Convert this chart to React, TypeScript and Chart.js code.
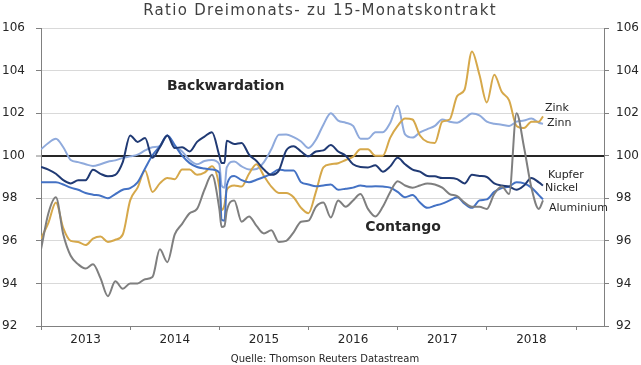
import { useEffect, useRef } from "react";
import { Chart, registerables } from "chart.js";

Chart.register(...registerables);

// Decimal years (monthly, plus two points inside the turn-of-year 2015 dip and the last observation)
const dates = [
  2013.0, 2013.083, 2013.167, 2013.25, 2013.333, 2013.417, 2013.5, 2013.583, 2013.667, 2013.75, 2013.833, 2013.917,
  2014.0, 2014.083, 2014.167, 2014.25, 2014.333, 2014.417, 2014.5, 2014.583, 2014.667, 2014.75, 2014.833, 2014.917,
  2015.0, 2015.025, 2015.058, 2015.083,
  2015.167, 2015.25, 2015.333, 2015.417, 2015.5, 2015.583, 2015.667, 2015.75, 2015.833, 2015.917,
  2016.0, 2016.083, 2016.167, 2016.25, 2016.333, 2016.417, 2016.5, 2016.583, 2016.667, 2016.75, 2016.833, 2016.917,
  2017.0, 2017.083, 2017.167, 2017.25, 2017.333, 2017.417, 2017.5, 2017.583, 2017.667, 2017.75, 2017.833, 2017.917,
  2018.0, 2018.083, 2018.167, 2018.25, 2018.333, 2018.417, 2018.5, 2018.583,
  2018.63,
];

const aluminium = [
  95.6, 97.3, 98.05, 96.3, 95.3, 94.9, 94.7, 94.9, 94.25, 93.4, 94.1, 93.75,
  94.0, 94.0, 94.2, 94.3, 95.6, 95.0, 96.3, 96.8, 97.3, 97.5, 98.4, 99.1,
  97.5, 96.65, 96.7, 97.4,
  97.9, 96.9, 97.15, 96.7, 96.35, 96.5, 95.95, 96.0, 96.4, 96.9,
  96.95, 97.6, 97.8, 97.1, 97.9, 97.6, 97.9, 98.2, 97.5, 97.15, 97.6, 98.3,
  98.8, 98.6, 98.5, 98.6, 98.7, 98.65, 98.5, 98.2, 98.1, 97.8, 97.6, 97.6,
  97.5, 98.2, 98.55, 98.2, 102.0, 100.4, 98.5, 97.5,
  97.9,
];

const zink = [
  96.1, 96.85, 97.8, 96.6, 96.0, 95.95, 95.8, 96.1, 96.2, 95.95, 96.05, 96.3,
  97.9, 98.5, 99.3, 98.3, 98.7, 98.95, 98.9, 99.35, 99.35, 99.1, 99.2, 99.5,
  98.5, 97.45, 97.7, 98.4,
  98.6, 98.55, 99.15, 99.6, 99.05, 98.55, 98.25, 98.25, 98.05, 97.55,
  97.3, 98.3, 99.45, 99.6, 99.65, 99.8, 99.95, 100.3, 100.3, 100.0, 100.0, 100.85,
  101.4, 101.75, 101.7, 100.95, 100.65, 100.6, 101.6, 101.7, 102.8, 103.1, 104.9, 103.8,
  102.5, 103.8, 103.0, 102.6, 101.4, 101.3, 101.6, 101.6,
  101.85,
];

const kupfer = [
  99.47, 99.35, 99.15, 98.85, 98.7, 98.85, 98.85, 99.34, 99.15, 99.03, 99.1, 99.7,
  100.95, 100.65, 100.83, 99.9, 100.4, 100.95, 100.36, 100.4, 100.2, 100.65, 100.9, 101.1,
  100.0, 99.66, 99.66, 100.7,
  100.55, 100.6, 100.05, 99.75, 99.35, 99.1, 99.3, 100.25, 100.45, 100.2,
  99.97, 100.2, 100.25, 100.5, 100.2, 100.0, 99.6, 99.47, 99.45, 99.55, 99.25, 99.5,
  99.9, 99.6, 99.35, 99.25, 99.05, 99.03, 98.95, 98.95, 98.9, 98.7, 99.1, 99.05,
  99.0, 98.7, 98.6, 98.55, 98.4, 98.6, 98.95, 98.75,
  98.6,
];

const nickel = [
  98.75, 98.75, 98.75, 98.65, 98.5, 98.4, 98.25, 98.17, 98.12, 98.0, 98.2, 98.4,
  98.48, 98.75, 99.4, 100.02, 100.45, 100.95, 100.5, 100.0, 99.65, 99.47, 99.4, 99.35,
  99.2, 97.0, 96.95, 98.6,
  99.05, 98.85, 98.75, 98.87, 99.0, 99.15, 99.35, 99.3, 99.3, 98.75,
  98.65, 98.56, 98.6, 98.65, 98.4, 98.45, 98.5, 98.6, 98.55, 98.56, 98.55, 98.5,
  98.3, 98.05, 98.15, 97.8, 97.55, 97.65, 97.75, 97.9, 98.05, 97.75, 97.55, 97.9,
  97.95, 98.3, 98.48, 98.55, 98.75, 98.7, 98.5, 98.15,
  97.95,
];

const zinn = [
  100.3, 100.6, 100.8, 100.4, 99.8, 99.7, 99.6, 99.52, 99.6, 99.72, 99.78, 99.9,
  99.97, 100.05, 100.25, 100.4, 100.45, 100.95, 100.45, 100.2, 99.8, 99.6, 99.75, 99.8,
  99.6, 98.6, 98.5, 99.45,
  99.73, 99.5, 99.35, 99.38, 99.7, 100.3, 100.99, 101.0, 100.87, 100.67,
  100.36, 100.75, 101.46, 102.0, 101.65, 101.55, 101.4, 100.8, 100.8, 101.1, 101.1, 101.55,
  102.35, 101.0, 100.85, 101.1, 101.25, 101.4, 101.7, 101.6, 101.55, 101.75, 101.98, 101.9,
  101.6, 101.5, 101.46, 101.4, 101.6, 101.65, 101.75, 101.55,
  101.5,
];

const yMin = 92;
const yMax = 106;
const yStep = 2;
const xMin = 2013;
const xMax = 2019.314;
const years = [2013, 2014, 2015, 2016, 2017, 2018];

const title = "Ratio Dreimonats- zu 15-Monatskontrakt";
const source = "Quelle: Thomson Reuters Datastream";

// [text, decimal year (left edge or centre), value]
const regionLabels: [string, number, number][] = [
  ["Backwardation", 2015.071, 103.24],
  ["Contango", 2017.06, 96.62],
];
const seriesLabels: [string, number, number][] = [
  ["Zink", 2018.652, 102.25],
  ["Zinn", 2018.675, 101.55],
  ["Kupfer", 2018.686, 99.11],
  ["Nickel", 2018.652, 98.5],
  ["Aluminium", 2018.697, 97.56],
];

const series = [
  { label: "Aluminium", values: aluminium, color: "#7f7f7f" },
  { label: "Kupfer", values: kupfer, color: "#203a74" },
  { label: "Nickel", values: nickel, color: "#4472c4" },
  { label: "Zink", values: zink, color: "#d6a84a" },
  { label: "Zinn", values: zinn, color: "#8faadc" },
];

const FONT = "'DejaVu Sans', Verdana, sans-serif";

export default function App() {
  const ref = useRef<HTMLCanvasElement>(null);

  useEffect(() => {
    document.body.style.margin = "0";
    const canvas = ref.current!;

    const textPlugin = {
      id: "texts",
      afterDraw(chart: any) {
        const c = chart.ctx as CanvasRenderingContext2D;
        const xs = chart.scales.x;
        const ys = chart.scales.y;
        c.save();
        c.textBaseline = "middle";
        // title
        c.fillStyle = "#404040";
        c.font = `15px ${FONT}`;
        (c as any).letterSpacing = "1.3px";
        c.textAlign = "center";
        c.fillText(title, 320, 11);
        (c as any).letterSpacing = "0px";
        // source
        c.font = `10px ${FONT}`;
        c.fillStyle = "#262626";
        c.fillText(source, 325, 359);
        // region labels
        c.font = `bold 14px ${FONT}`;
        c.fillStyle = "#262626";
        for (const [t, x, y] of regionLabels) {
          c.fillText(t, xs.getPixelForValue(x), ys.getPixelForValue(y));
        }
        // series labels
        c.font = `11px ${FONT}`;
        c.textAlign = "left";
        for (const [t, x, y] of seriesLabels) {
          c.fillText(t, xs.getPixelForValue(x), ys.getPixelForValue(y));
        }
        c.restore();
      },
    };

    const xTickValues: number[] = [];
    for (const y of years) {
      xTickValues.push(y, y + 0.5);
    }
    xTickValues.push(years[years.length - 1] + 1);

    const tickFont = { family: FONT, size: 12 };

    const chart = new Chart(canvas, {
      type: "line",
      data: {
        datasets: series.map((s) => ({
          label: s.label,
          data: dates.map((d, i) => ({ x: d, y: s.values[i] })),
          borderColor: s.color,
          backgroundColor: s.color,
          borderWidth: 2,
          pointRadius: 0,
          cubicInterpolationMode: "monotone" as const,
          fill: false,
        })),
      },
      options: {
        animation: false,
        responsive: false,
        maintainAspectRatio: false,
        layout: { padding: { top: 28, left: 2, right: 0, bottom: 0 } },
        plugins: {
          legend: { display: false },
          tooltip: { enabled: false },
          title: { display: false },
        },
        scales: {
          x: {
            type: "linear",
            min: xMin,
            max: xMax,
            afterBuildTicks: (s: any) => {
              s.ticks = xTickValues.map((v) => ({ value: v }));
            },
            afterFit: (s: any) => {
              s.height = 39;
            },
            ticks: {
              autoSkip: false,
              maxRotation: 0,
              minRotation: 0,
              padding: 3,
              color: "#262626",
              font: tickFont,
              callback: (v: any) => (Number(v) % 1 === 0.5 ? String(Number(v) - 0.5) : ""),
            },
            grid: {
              drawOnChartArea: false,
              drawTicks: true,
              tickLength: 4,
              tickColor: (ctx: any) =>
                ctx.tick && Number(ctx.tick.value) % 1 === 0 ? "#808080" : "rgba(0,0,0,0)",
            },
            border: { display: true, color: "#808080", width: 1 },
          },
          y: {
            position: "left",
            min: yMin,
            max: yMax,
            afterFit: (s: any) => {
              s.width = 39;
            },
            ticks: {
              stepSize: yStep,
              crossAlign: "far",
              color: "#262626",
              font: tickFont,
              padding: 4,
            },
            grid: {
              color: (ctx: any) => (ctx.tick && ctx.tick.value === 100 ? "#262626" : "#d9d9d9"),
              lineWidth: (ctx: any) => (ctx.tick && ctx.tick.value === 100 ? 2 : 1),
              tickColor: "#808080",
              tickWidth: 1,
              tickLength: 5,
            },
            border: { display: true, color: "#808080", width: 1 },
          },
          y2: {
            position: "right",
            min: yMin,
            max: yMax,
            afterFit: (s: any) => {
              s.width = 37;
            },
            ticks: {
              stepSize: yStep,
              color: "#262626",
              font: tickFont,
              padding: 7,
            },
            grid: {
              drawOnChartArea: false,
              tickColor: "#808080",
              tickWidth: 1,
              tickLength: 5,
            },
            border: { display: true, color: "#808080", width: 1 },
          },
        },
      },
      plugins: [textPlugin],
    } as any);

    return () => chart.destroy();
  }, []);

  return (
    <div style={{ width: 641, height: 365 }}>
      <canvas ref={ref} width={641} height={365} style={{ display: "block" }} />
    </div>
  );
}
